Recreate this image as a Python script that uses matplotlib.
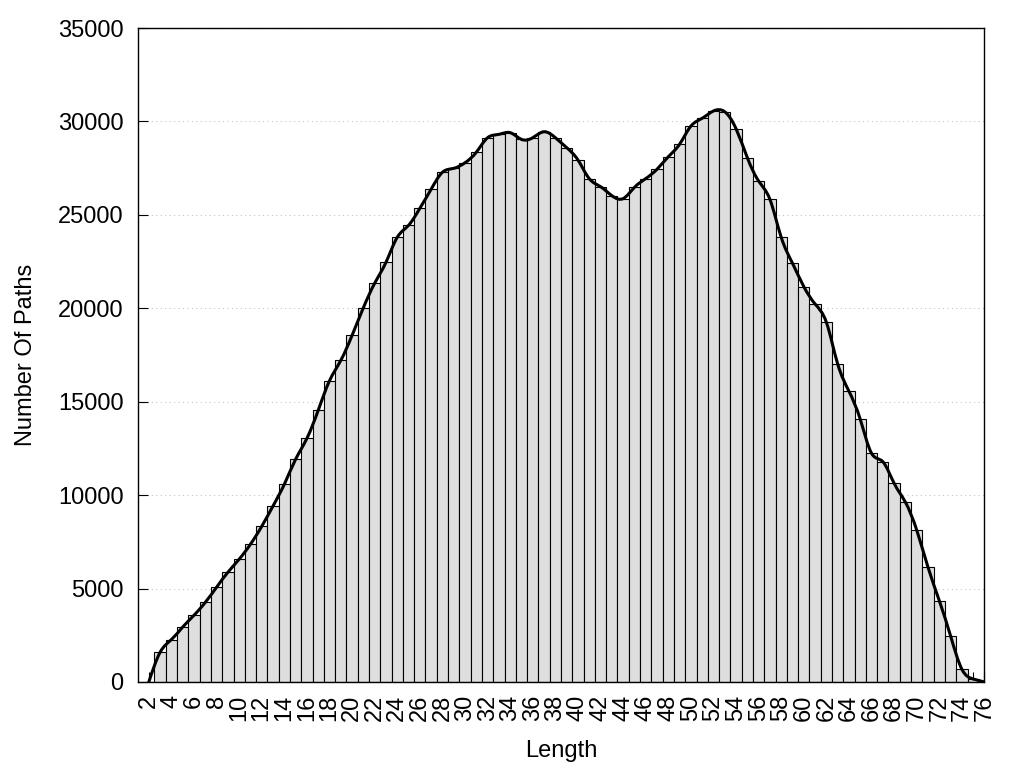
import numpy as np
import matplotlib
matplotlib.use("Agg")
import matplotlib.pyplot as plt
from matplotlib.path import Path
from matplotlib.patches import PathPatch

# path length -> number of paths
lengths = list(range(2, 77))
counts = [
    0, 1590, 2270, 2940, 3570, 4260, 5070, 5870, 6570, 7370,
    8330, 9420, 10580, 11920, 13040, 14540, 16120, 17210, 18550, 20030,
    21340, 22460, 23800, 24440, 25350, 26370, 27280, 27490, 27790, 28350,
    29130, 29310, 29400, 29040, 29130, 29450, 29130, 28600, 27940, 26940,
    26510, 26030, 25870, 26470, 26940, 27440, 28110, 28780, 29750, 30170,
    30560, 30520, 29610, 28060, 26810, 25830, 23800, 22410, 21160, 20230,
    19250, 17020, 15560, 14060, 12240, 11790, 10630, 9620, 8130, 6140,
    4350, 2460, 680, 160, 0,
]
ytick_vals = list(range(0, 35001, 5000))

plt.rcParams["font.family"] = ["Liberation Sans", "DejaVu Sans"]
plt.rcParams["font.size"] = 17


def spline_path(xs, ys):
    # natural cubic spline through the points, drawn as bezier segments
    x = np.asarray(xs, float)
    y = np.asarray(ys, float)
    n = len(x)
    h = np.diff(x)
    A = np.zeros((n, n))
    b = np.zeros(n)
    A[0, 0] = A[-1, -1] = 1.0
    for i in range(1, n - 1):
        A[i, i - 1] = h[i - 1]
        A[i, i] = 2 * (h[i - 1] + h[i])
        A[i, i + 1] = h[i]
        b[i] = 6 * ((y[i + 1] - y[i]) / h[i] - (y[i] - y[i - 1]) / h[i - 1])
    M = np.linalg.solve(A, b)
    verts = [(x[0], y[0])]
    codes = [Path.MOVETO]
    for i in range(n - 1):
        s = (y[i + 1] - y[i]) / h[i]
        d0 = s - h[i] * (2 * M[i] + M[i + 1]) / 6
        d1 = s + h[i] * (M[i] + 2 * M[i + 1]) / 6
        verts += [(x[i] + h[i] / 3, y[i] + d0 * h[i] / 3),
                  (x[i + 1] - h[i] / 3, y[i + 1] - d1 * h[i] / 3),
                  (x[i + 1], y[i + 1])]
        codes += [Path.CURVE4] * 3
    return Path(verts, codes)


fig = plt.figure(figsize=(10.24, 7.68), dpi=100)
ax = fig.add_axes([0.1343, 0.112, 0.8271, 0.8515])

ax.bar(lengths, counts, width=1.0, color="#dedede", edgecolor="black",
       linewidth=0.8, zorder=2)
ax.add_patch(PathPatch(spline_path(lengths, counts), fill=False,
                       edgecolor="black", linewidth=2.2, zorder=3,
                       capstyle="round", joinstyle="round"))

ax.set_xlim(1, 76)
ax.set_ylim(0, 35000)
ax.set_xticks(lengths)
ax.set_xticklabels([str(v) if v % 2 == 0 else "" for v in lengths],
                   rotation=90, va="top", ha="center")
ax.set_yticks(ytick_vals)
ax.set_yticklabels([str(v) for v in ytick_vals])
ax.tick_params(direction="in", length=7, width=0.8, pad=9)
ax.tick_params(axis="y", pad=10)

ax.set_axisbelow(True)
ax.yaxis.grid(True, color="#c4c4c4", linestyle=(0, (1, 3)), linewidth=0.8)
for sp in ax.spines.values():
    sp.set_linewidth(1.0)

ax.set_xlabel("Length", labelpad=14)
ax.set_ylabel("Number Of Paths", labelpad=15)

fig.savefig("out.png", dpi=100)
